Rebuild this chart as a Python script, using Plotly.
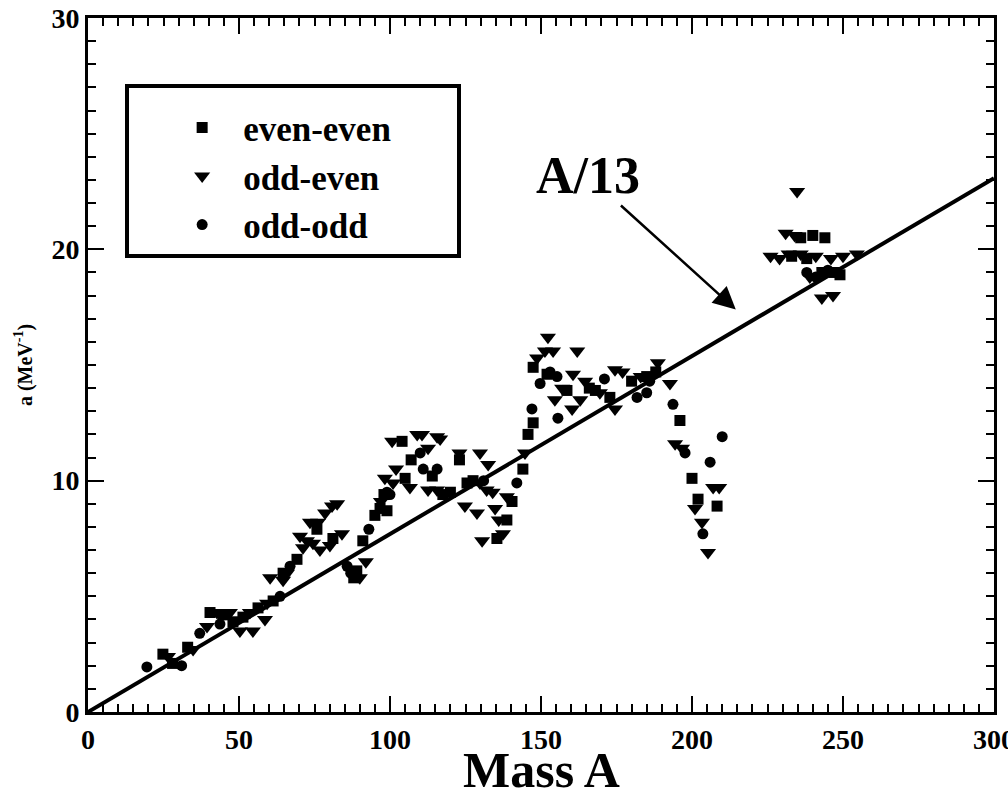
import numpy as np
import plotly.graph_objects as go

# Level density parameter a (MeV^-1) versus mass number A, by nucleus parity class
even_even_A = [24.8, 28, 33, 40.4, 44.7, 48, 51.3, 56.3, 61.3, 64.6, 69.2, 75.8, 81.1,
               88, 89, 91, 95, 96.7, 99, 98, 104, 105, 107, 114, 117.5, 120, 123, 125.5,
               127.5, 135.4, 138.7, 140.4, 144, 145.7, 147.4, 147.4, 152, 158.6, 166, 168,
               172.8, 180, 185, 188, 196, 200, 202, 208.3, 236, 240, 244, 233, 238, 243,
               247, 249]
even_even_a = [2.5, 2.1, 2.8, 4.3, 4.2, 3.9, 4.1, 4.5, 4.8, 6.0, 6.6, 7.9, 7.5,
               5.8, 6.1, 7.4, 8.5, 8.8, 8.7, 9.4, 11.7, 10.1, 10.9, 10.2, 9.4, 9.5, 10.9, 9.9,
               10.0, 7.5, 8.3, 9.1, 10.5, 12.0, 12.5, 14.9, 14.6, 13.9, 14.0, 13.9,
               13.6, 14.3, 14.5, 14.7, 12.6, 10.1, 9.2, 8.9, 20.5, 20.6, 20.5, 19.7, 19.6, 19.0,
               19.0, 18.9]

odd_even_A = [26.5, 34.8, 39.4, 42.7, 47, 50.3, 54.6, 53.6, 58.6, 59.3, 60.3, 64.6, 65.9,
              70.2, 72.5, 71.2, 74.5, 73.5, 76.2, 76.8, 78.5, 80.8, 82.5, 84.1, 80.1, 90, 92,
              97, 100.7, 102, 98.3, 101, 106.6, 109, 110.6, 112.6, 115.6, 116.6, 112.6, 115.6,
              123, 129.8, 129.8, 132.5, 124.8, 128.8, 132, 134, 134.8, 136, 130.5, 137.4,
              138.7, 144.7, 148.7, 151.3, 152.3, 154, 162, 157, 160.6, 164.6, 154.6, 160.3,
              163, 169.5, 174.5, 174.5, 177, 183, 188.7, 192.7, 194.4, 196.7, 201, 203.3,
              205.3, 207, 209, 234.8, 231, 234, 226, 229, 232, 236, 241, 246, 250, 254.6,
              243, 246.7, 239]
odd_even_a = [2.4, 2.7, 3.7, 4.3, 4.3, 3.5, 3.5, 4.3, 4.0, 4.7, 5.8, 5.7, 6.0,
              7.6, 7.4, 7.1, 7.3, 8.2, 8.2, 7.0, 8.6, 8.9, 9.0, 7.7, 7.2, 5.8, 6.5,
              9.1, 11.7, 10.5, 10.1, 9.9, 9.7, 12.0, 12.0, 11.4, 11.9, 11.8, 9.6, 9.6,
              11.2, 11.2, 9.9, 10.7, 8.9, 8.6, 9.6, 9.5, 8.8, 8.3, 7.4, 7.7,
              9.3, 11.2, 15.3, 15.6, 16.2, 15.6, 15.6, 14.0, 14.6, 14.3, 13.5, 13.1,
              13.5, 13.8, 13.1, 14.8, 14.7, 14.5, 15.1, 14.2, 11.6, 11.4, 8.8, 8.2,
              6.9, 9.7, 9.7, 22.5, 20.7, 20.6, 19.7, 19.6, 19.8, 19.8, 19.7, 19.6, 19.7, 19.8,
              17.9, 18.0, 18.8]

odd_odd_A = [19.5, 31, 37, 43.7, 63.6, 66.9, 85.8, 87, 93, 99, 99, 100, 110, 111, 115.6,
             131, 142, 147, 149.7, 153, 155.3, 155.6, 171, 181.8, 185, 186, 193.7, 197.7,
             203.6, 206, 210, 238, 241, 245]
odd_odd_a = [1.95, 2.0, 3.4, 3.8, 5.0, 6.3, 6.3, 6.0, 7.9, 9.5, 9.4, 9.4, 11.2, 10.5, 10.5,
             10.0, 9.9, 13.1, 14.2, 14.7, 14.5, 12.7, 14.4, 13.6, 13.8, 14.3, 13.3, 11.2,
             7.7, 10.8, 11.9, 19.0, 18.8, 19.1]

x_ticks = [0, 50, 100, 150, 200, 250, 300]
y_ticks = [0, 10, 20, 30]

SERIF = "Liberation Serif"
PAD = "\u00a0" * 7  # trailing space that widens the legend box

fig = go.Figure()

# reference line a = A/13
line_A = np.array([0, 300])
fig.add_trace(go.Scatter(x=line_A, y=line_A / 13, mode="lines",
                         line=dict(color="black", width=4), showlegend=False))

fig.add_trace(go.Scatter(x=even_even_A, y=even_even_a, mode="markers", name="even-even" + PAD,
                         marker=dict(symbol="square", size=11, color="black")))
fig.add_trace(go.Scatter(x=odd_even_A, y=odd_even_a, mode="markers", name="odd-even" + PAD,
                         marker=dict(symbol="triangle-down", size=14, color="black")))
fig.add_trace(go.Scatter(x=odd_odd_A, y=odd_odd_a, mode="markers", name="odd-odd" + PAD,
                         marker=dict(symbol="circle", size=11, color="black")))

tick_font = dict(family=SERIF, size=28, color="black", weight="bold")

fig.update_xaxes(range=[0, 300], tickvals=x_ticks, showgrid=False, zeroline=False,
                 showline=True, mirror="allticks", linecolor="black", linewidth=3,
                 ticks="inside", ticklen=16, tickwidth=2, tickcolor="black",
                 ticklabeloverflow="allow", automargin=False,
                 minor=dict(dtick=5, ticks="inside", ticklen=8, tickwidth=1.5,
                            tickcolor="black", showgrid=False),
                 tickfont=tick_font)
fig.update_yaxes(range=[0, 30], tickvals=y_ticks, showgrid=False, zeroline=False,
                 showline=True, mirror="allticks", linecolor="black", linewidth=3,
                 ticks="inside", ticklen=16, tickwidth=2, tickcolor="black",
                 automargin=False,
                 minor=dict(dtick=1, ticks="inside", ticklen=8, tickwidth=1.5,
                            tickcolor="black", showgrid=False),
                 tickfont=tick_font,
                 title=dict(text="a (MeV<sup>-1</sup>)", standoff=14,
                            font=dict(family=SERIF, size=20, color="black", weight="bold")))

# x-axis title placed below the tick labels
fig.add_annotation(x=0.5, y=-0.1268, xref="paper", yref="paper", text="Mass A",
                   showarrow=False, xanchor="center", yanchor="bottom",
                   font=dict(family=SERIF, size=50, color="black", weight="bold"))

fig.add_annotation(x=214.5, y=17.4, xref="x", yref="y", ax=-148, ay=-134,
                   text="A/13", showarrow=True, arrowhead=2, arrowsize=1.8,
                   arrowwidth=2.5, arrowcolor="black", standoff=0,
                   font=dict(family=SERIF, size=52, color="black", weight="bold"))

fig.update_layout(
    width=1008, height=800,
    margin=dict(l=88, r=14, t=18, b=88, autoexpand=False),
    paper_bgcolor="white", plot_bgcolor="white",
    legend=dict(x=0.041, y=0.905, xanchor="left", yanchor="top",
                bordercolor="black", borderwidth=4, bgcolor="white",
                font=dict(family=SERIF, size=35, color="black", weight="bold"),
                title=dict(text="\u00a0", font=dict(family=SERIF, size=8)),
                indentation=32, itemwidth=72,
                tracegroupgap=0),
)

fig.write_html("out.html")
